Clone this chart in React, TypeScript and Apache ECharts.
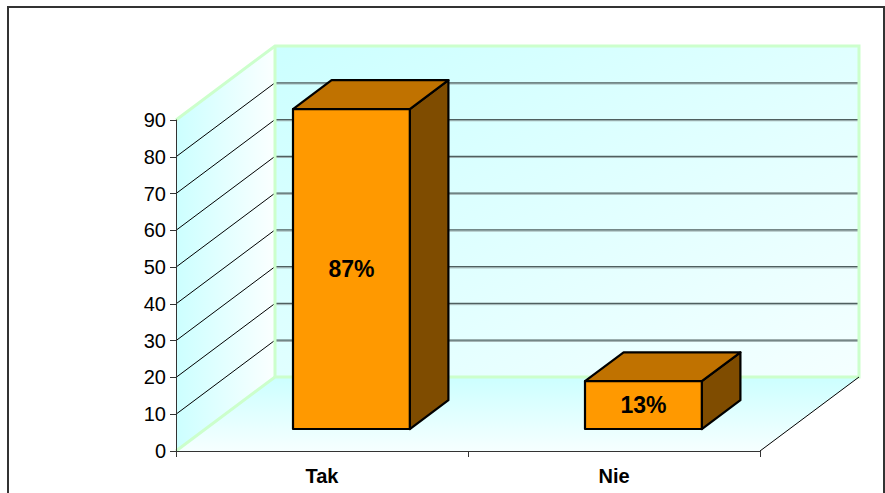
import React, { useEffect, useRef } from "react";
import * as echarts from "echarts";

// Survey answers and their shares (in %)
const categories = ["Tak", "Nie"];
const percentValues = [87, 13];
const valueLabels = ["87%", "13%"];

// Value axis range
const yMin = 0;
const yMax = 90;
const yStep = 10;

// Oblique depth of the 3D plot box, in pixels for the full depth
const DEPTH_X = 99;
const DEPTH_Y = 74;
// Bars sit between these fractions of the box depth
const BAR_FRONT = 0.297;
const BAR_BACK = 0.687;
const BAR_WIDTH_RATIO = 0.4;

const FONT = '"Liberation Sans", Arial, Helvetica, sans-serif';

const WALL_EDGE = "#ccffcc";

export default function App() {
  const ref = useRef<HTMLDivElement>(null);

  useEffect(() => {
    const chart = echarts.init(ref.current as HTMLDivElement, null, { renderer: "svg" });

    const renderWalls = (params: any, api: any) => {
      const cs = params.coordSys;
      const x0 = cs.x;
      const x1 = cs.x + cs.width;
      const yBase = api.coord([0, yMin])[1];
      const yTop = api.coord([0, yMax])[1];
      const bx0 = x0 + DEPTH_X;
      const bx1 = x1 + DEPTH_X;
      const byBase = yBase - DEPTH_Y;
      const byTop = yTop - DEPTH_Y;
      const children: any[] = [];

      // side wall
      children.push({
        type: "polygon",
        shape: { points: [[x0, yBase], [x0, yTop], [bx0, byTop], [bx0, byBase]] },
        style: {
          fill: new echarts.graphic.LinearGradient(0, 0, 1, 0, [
            { offset: 0, color: "#ccffff" },
            { offset: 1, color: "#fbffff" },
          ]),
        },
      });
      // back wall
      children.push({
        type: "polygon",
        shape: { points: [[bx0, byTop], [bx1, byTop], [bx1, byBase], [bx0, byBase]] },
        style: {
          fill: new echarts.graphic.LinearGradient(0, 0, 1, 1, [
            { offset: 0, color: "#ccffff" },
            { offset: 1, color: "#f4ffff" },
          ]),
        },
      });
      // floor
      children.push({
        type: "polygon",
        shape: { points: [[x0, yBase], [bx0, byBase], [bx1, byBase], [x1, yBase]] },
        style: {
          fill: new echarts.graphic.LinearGradient(0, 0, 0, 1, [
            { offset: 0, color: "#ccffff" },
            { offset: 1, color: "#f6ffff" },
          ]),
        },
      });

      // gridlines on the side and back walls
      for (let v = yMin + yStep; v < yMax; v += yStep) {
        const y = api.coord([0, v])[1];
        children.push({
          type: "line",
          shape: { x1: x0, y1: y, x2: bx0, y2: y - DEPTH_Y },
          style: { stroke: "#000", lineWidth: 1 },
        });
        children.push({
          type: "line",
          shape: { x1: bx0, y1: y - DEPTH_Y + 1.2, x2: bx1, y2: y - DEPTH_Y + 1.2 },
          style: { stroke: "#9fb0b0", lineWidth: 1 },
        });
        children.push({
          type: "line",
          shape: { x1: bx0, y1: y - DEPTH_Y, x2: bx1, y2: y - DEPTH_Y },
          style: { stroke: "#4f5f5f", lineWidth: 1.3 },
        });
      }

      // wall edges
      children.push({
        type: "polyline",
        shape: {
          points: [[x0, yTop], [bx0, byTop], [bx1, byTop], [bx1, byBase], [bx0, byBase], [x0, yBase]],
        },
        style: { stroke: WALL_EDGE, lineWidth: 3, fill: null, lineJoin: "miter" },
      });
      children.push({
        type: "line",
        shape: { x1: bx0, y1: byTop, x2: bx0, y2: byBase },
        style: { stroke: WALL_EDGE, lineWidth: 3 },
      });
      // front-right floor edge
      children.push({
        type: "line",
        shape: { x1: x1, y1: yBase, x2: bx1, y2: byBase },
        style: { stroke: "#000", lineWidth: 1 },
      });

      return { type: "group", children };
    };

    const renderBar = (params: any, api: any) => {
      const idx = api.value(0);
      const val = api.value(1);
      const [cx, yv] = api.coord([idx, val]);
      const y0 = api.coord([idx, yMin])[1];
      const band = api.size([1, 0])[0];
      const w = band * BAR_WIDTH_RATIO;
      const fx0 = cx - w / 2 + BAR_FRONT * DEPTH_X;
      const fx1 = fx0 + w;
      const fTop = yv - BAR_FRONT * DEPTH_Y;
      const fBot = y0 - BAR_FRONT * DEPTH_Y;
      const dx = (BAR_BACK - BAR_FRONT) * DEPTH_X;
      const dy = (BAR_BACK - BAR_FRONT) * DEPTH_Y;
      const edge = { stroke: "#000", lineWidth: 2.2, lineJoin: "round" };

      return {
        type: "group",
        children: [
          {
            type: "polygon",
            shape: { points: [[fx1, fTop], [fx1 + dx, fTop - dy], [fx1 + dx, fBot - dy], [fx1, fBot]] },
            style: { fill: "#7f4c00", ...edge },
          },
          {
            type: "polygon",
            shape: { points: [[fx0, fTop], [fx0 + dx, fTop - dy], [fx1 + dx, fTop - dy], [fx1, fTop]] },
            style: { fill: "#c07200", ...edge },
          },
          {
            type: "polygon",
            shape: { points: [[fx0, fTop], [fx1, fTop], [fx1, fBot], [fx0, fBot]] },
            style: { fill: "#ff9900", ...edge },
          },
          {
            type: "text",
            x: (fx0 + fx1) / 2,
            y: (fTop + fBot) / 2,
            style: {
              text: valueLabels[params.dataIndex],
              fill: "#000",
              fontSize: 23,
              fontWeight: "bold",
              fontFamily: FONT,
              align: "center",
              verticalAlign: "middle",
            },
          },
        ],
      };
    };

    chart.setOption({
      animation: false,
      backgroundColor: "#fff",
      grid: { left: 176, right: 125, top: 120, bottom: 42, containLabel: false },
      xAxis: {
        type: "category",
        data: categories,
        z: 10,
        axisLine: { show: true, lineStyle: { color: "#333", width: 1 } },
        axisTick: { show: true, length: 6, alignWithLabel: false, interval: 0, lineStyle: { color: "#333" } },
        axisLabel: {
          color: "#000",
          fontSize: 20,
          fontWeight: "bold",
          fontFamily: FONT,
          margin: 15,
        },
        splitLine: { show: false },
      },
      yAxis: {
        type: "value",
        min: yMin,
        max: yMax,
        interval: yStep,
        z: 10,
        axisLine: { show: true, lineStyle: { color: "#333", width: 1 } },
        axisTick: { show: true, length: 6, lineStyle: { color: "#333" } },
        axisLabel: { color: "#000", fontSize: 20, fontFamily: FONT, margin: 10 },
        splitLine: { show: false },
      },
      graphic: [
        {
          type: "rect",
          shape: { x: 8, y: 7, width: 876, height: 520 },
          style: { fill: "none", stroke: "#333", lineWidth: 2 },
          silent: true,
          z: 100,
        },
      ],
      series: [
        {
          type: "custom",
          z: 1,
          clip: false,
          silent: true,
          renderItem: renderWalls,
          data: [[0, yMin]],
        },
        {
          type: "custom",
          z: 3,
          clip: false,
          renderItem: renderBar,
          data: categories.map((_, i) => [i, percentValues[i]]),
        },
      ],
    });

    return () => {
      chart.dispose();
    };
  }, []);

  return (
    <div
      ref={ref}
      style={{ position: "absolute", left: 0, top: 0, width: 885, height: 493, background: "#fff" }}
    />
  );
}
